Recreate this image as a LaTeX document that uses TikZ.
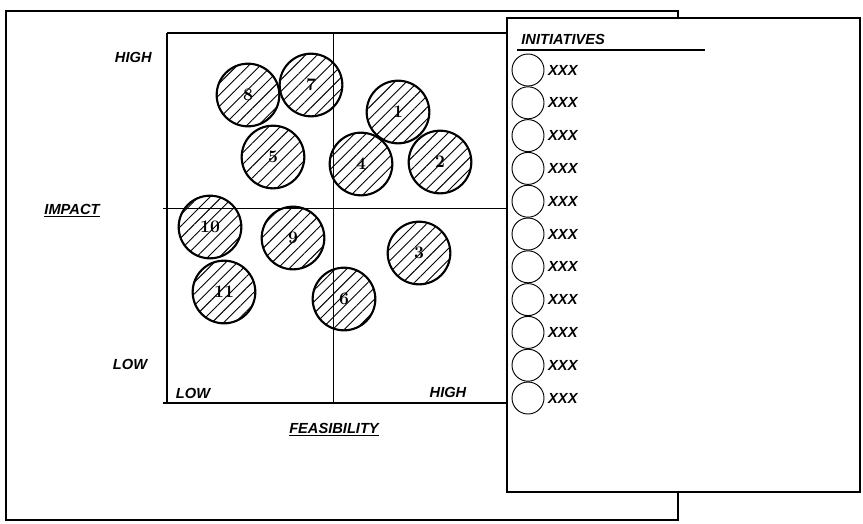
\documentclass[tikz,border=0pt]{standalone}
\usepackage{fontspec}
\newfontfamily\sketchfont{Liberation Sans}
\usetikzlibrary{patterns.meta, positioning}

\begin{document}
\begin{tikzpicture}[x=0.03cm, y=-0.03cm,
  sheet/.style={draw, fill=white, line width=2.2pt},
  axis/.style={line width=0.6pt},
  idea/.style={circle, draw, line width=1.8pt, minimum size=1.88cm,
               inner sep=0pt, font=\bfseries\fontsize{15}{17}\selectfont,
               pattern={Lines[angle=45, distance=7pt, line width=0.8pt]}},
  lbl/.style={font=\sketchfont\bfseries\itshape\fontsize{12.5}{14}\selectfont,
              inner sep=1pt},
  dot/.style={circle, draw, line width=0.8pt, minimum size=0.96cm, inner sep=0pt}
]
  \useasboundingbox (0,0) rectangle (863,523);

  % Back sheet
  \draw[sheet] (6,11) rectangle (678,520);

  % Matrix
  \draw[line width=1.8pt] (167,33) -- (167,403);
  \draw[line width=1.8pt] (163,403) -- (520,403);
  \draw[line width=1pt] (167,33) -- (520,33);
  \draw[axis] (333,33) -- (333,403);
  \draw[axis] (163,208) -- (520,208);

  % Initiatives
  \node[idea] (c8)  at (248,95)  {8};
  \node[idea] (c7)  at (311,85)  {7};
  \node[idea] (c1)  at (398,112) {1};
  \node[idea] (c5)  at (273,157) {5};
  \node[idea] (c4)  at (361,164) {4};
  \node[idea] (c2)  at (440,162) {2};
  \node[idea] (c10) at (210,227) {10};
  \node[idea] (c9)  at (293,238) {9};
  \node[idea] (c3)  at (419,253) {3};
  \node[idea] (c11) at (224,292) {11};
  \node[idea] (c6)  at (344,299) {6};

  % Axis labels
  \node[lbl, anchor=east] (yhigh) at (153,57) {HIGH};
  \node[lbl] (ylow) at (130,364) {LOW};
  \node[lbl] (impact) at (72,211) {\underline{IMPACT}};
  \node[lbl] (xlow) at (193,393) {LOW};
  \node[lbl] (xhigh) at (448,392) {HIGH};
  \node[lbl] (feasib) at (334,430) {\underline{FEASIBILITY}};

  % Front sheet
  \draw[sheet] (507,18) rectangle (860,492);
  \node[lbl, anchor=west] (title) at (520,39) {INITIATIVES};
  \draw[line width=2pt] (517,50) -- (705,50);
  \foreach \i in {0,...,10} {
    \node[dot] (d\i) at (528,{70+\i*32.8}) {};
    \node[lbl, right=2pt of d\i] (t\i) {XXX};
  }
\end{tikzpicture}
\end{document}
